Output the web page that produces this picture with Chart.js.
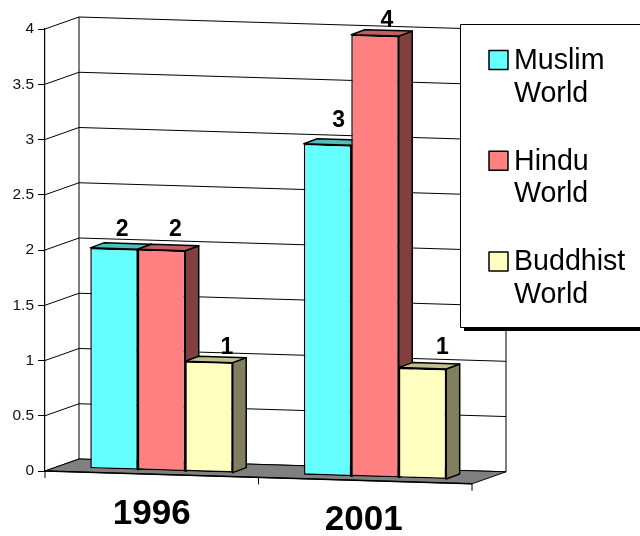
<!DOCTYPE html>
<html>
<head>
<meta charset="utf-8">
<style>
  body { margin: 0; background: #fff; }
  canvas { display: block; }
</style>
<script src="https://cdn.jsdelivr.net/npm/chart.js@4"></script>
</head>
<body>
<canvas id="myChart" width="640" height="536"></canvas>
<script>
const years = ['1996', '2001'];
const muslimWorld = [2, 3];
const hinduWorld = [2, 4];
const buddhistWorld = [1, 1];
const yTicks = [0, 0.5, 1, 1.5, 2, 2.5, 3, 3.5, 4];

const seriesNames = [['Muslim', 'World'], ['Hindu', 'World'], ['Buddhist', 'World']];
const seriesColors = ['#66FFFF', '#FF8080', '#FFFFC0'];
const sideColors = ['#338080', '#804040', '#808060'];
const topColors = ['#4DBFBF', '#BF6060', '#BFBF90'];

// fake 3d look: everything leans down to the right and has some depth
const slope = 0.03;
const wall = { dx: 34, dy: -12 };
const barInset = { dx: 9.75, dy: -3.2 };
const barDepth = { dx: 13.5, dy: -5 };

function lean(area, x, y) {
    return y + slope * (x - area.left);
}

function line(ctx, x1, y1, x2, y2) {
    ctx.beginPath();
    ctx.moveTo(x1, y1);
    ctx.lineTo(x2, y2);
    ctx.stroke();
}

function poly(ctx, pts, fill) {
    ctx.beginPath();
    pts.forEach((p, i) => i ? ctx.lineTo(p[0], p[1]) : ctx.moveTo(p[0], p[1]));
    ctx.closePath();
    ctx.fillStyle = fill;
    ctx.fill();
    ctx.stroke();
}

function drawWalls(chart) {
    const ctx = chart.ctx, area = chart.chartArea, y = chart.scales.y;
    const w = area.right - area.left;
    ctx.strokeStyle = '#000';
    ctx.lineWidth = 1;

    yTicks.forEach(v => {
        const py = y.getPixelForValue(v);
        line(ctx, area.left, py, area.left + wall.dx, py + wall.dy);
        line(ctx, area.left + wall.dx, py + wall.dy, area.right + wall.dx, py + wall.dy + slope * w);
    });
    line(ctx, area.left + wall.dx, area.top + wall.dy, area.left + wall.dx, area.bottom + wall.dy);
    line(ctx, area.right + wall.dx, area.top + wall.dy + slope * w, area.right + wall.dx, area.bottom + wall.dy + slope * w);

    poly(ctx, [
        [area.left, area.bottom],
        [area.left + wall.dx, area.bottom + wall.dy],
        [area.right + wall.dx, area.bottom + wall.dy + slope * w],
        [area.right, area.bottom + slope * w]
    ], '#808080');
    ctx.lineWidth = 1.5;
    line(ctx, area.left, area.bottom, area.right, area.bottom + slope * w);
}

function drawXAxis(chart) {
    const ctx = chart.ctx, area = chart.chartArea, x = chart.scales.x;
    const step = (area.right - area.left) / years.length;
    ctx.strokeStyle = '#000';
    ctx.lineWidth = 1;
    for (let i = 0; i <= years.length; i++) {
        const px = area.left + i * step;
        const py = lean(area, px, area.bottom);
        line(ctx, px, py, px, py + 7);
    }
    ctx.fillStyle = '#000';
    ctx.font = 'bold 35px "Liberation Sans"';
    ctx.textAlign = 'center';
    ctx.textBaseline = 'middle';
    years.forEach((year, i) => {
        const px = x.getPixelForTick(i) - i * 1.5;
        ctx.fillText(year, px, lean(area, px, area.bottom) + 40);
    });
}

function drawBarFaces(chart) {
    const ctx = chart.ctx, area = chart.chartArea;
    ctx.strokeStyle = '#000';
    ctx.lineWidth = 1.5;
    ctx.lineJoin = 'round';
    years.forEach((year, i) => {
        seriesColors.forEach((c, s) => {
            const el = chart.getDatasetMeta(s).data[i];
            const left = el.x - el.width / 2, right = el.x + el.width / 2;
            const sx = x => x + barInset.dx;
            const sy = (x, yy) => lean(area, x, yy) + barInset.dy;
            poly(ctx, [
                [sx(right), sy(right, el.y)],
                [sx(right) + barDepth.dx, sy(right, el.y) + barDepth.dy],
                [sx(right) + barDepth.dx, sy(right, el.base) + barDepth.dy],
                [sx(right), sy(right, el.base)]
            ], sideColors[s]);
            poly(ctx, [
                [sx(left), sy(left, el.y)],
                [sx(left) + barDepth.dx, sy(left, el.y) + barDepth.dy],
                [sx(right) + barDepth.dx, sy(right, el.y) + barDepth.dy],
                [sx(right), sy(right, el.y)]
            ], topColors[s]);
        });
    });
}

// the value labels sit a bit irregularly over the bars in the original
const labelShift = [
    [[8, -19], [14, -21], [18, -15]],
    [[11, -24], [12, -15], [20, -21]]
];

function drawValueLabels(chart) {
    const ctx = chart.ctx, area = chart.chartArea;
    ctx.fillStyle = '#000';
    ctx.font = 'bold 23px "Liberation Sans"';
    ctx.textAlign = 'center';
    ctx.textBaseline = 'middle';
    years.forEach((year, i) => {
        chart.data.datasets.forEach((ds, s) => {
            const el = chart.getDatasetMeta(s).data[i];
            const px = el.x + barInset.dx;
            const py = lean(area, px, el.y) + barInset.dy;
            ctx.fillText(String(ds.data[i]), px + labelShift[i][s][0], py + labelShift[i][s][1]);
        });
    });
}

function drawLegend(chart) {
    const ctx = chart.ctx;
    ctx.fillStyle = '#000';
    ctx.fillRect(464, 327, 176, 4);
    ctx.fillStyle = '#fff';
    ctx.strokeStyle = '#000';
    ctx.lineWidth = 1;
    ctx.fillRect(460.5, 24.5, 190, 303);
    ctx.strokeRect(460.5, 24.5, 190, 303);

    ctx.font = '28.6px "Liberation Sans"';
    ctx.textAlign = 'left';
    ctx.textBaseline = 'alphabetic';
    seriesNames.forEach((name, s) => {
        const base = 69 + s * 100.7;
        ctx.fillStyle = seriesColors[s];
        ctx.lineWidth = 1.5;
        ctx.fillRect(489, base - 18.5, 19, 19);
        ctx.strokeRect(489, base - 18.5, 19, 19);
        ctx.fillStyle = '#000';
        name.forEach((t, k) => ctx.fillText(t, 514, base + k * 32.5));
    });
}

const fake3d = {
    id: 'fake3d',
    beforeDatasetsDraw(chart) {
        const ctx = chart.ctx, area = chart.chartArea;
        drawWalls(chart);
        drawXAxis(chart);
        drawBarFaces(chart);
        // front faces are the chart.js bars, sheared onto the same plane
        ctx.save();
        ctx.translate(barInset.dx, barInset.dy);
        ctx.transform(1, slope, 0, 1, 0, -slope * area.left);
    },
    afterDatasetsDraw(chart) {
        chart.ctx.restore();
        drawValueLabels(chart);
    },
    afterDraw: drawLegend
};

Chart.defaults.font.family = '"Liberation Sans"';

const datasets = [muslimWorld, hinduWorld, buddhistWorld].map((values, s) => ({
    label: seriesNames[s].join(' '),
    data: values,
    backgroundColor: seriesColors[s],
    borderColor: '#000',
    borderWidth: 1.5,
    borderSkipped: false,
    categoryPercentage: 0.667,
    barPercentage: 1,
    clip: false
}));

new Chart(document.getElementById('myChart'), {
    type: 'bar',
    data: { labels: years, datasets },
    options: {
        responsive: false,
        animation: false,
        layout: { padding: { top: 29, right: 168, bottom: 0, left: 0 } },
        plugins: { legend: { display: false }, tooltip: { enabled: false } },
        scales: {
            x: {
                grid: { display: false },
                border: { display: false },
                ticks: { display: false },
                afterFit(scale) { scale.height = 65; }
            },
            y: {
                min: yTicks[0],
                max: yTicks[yTicks.length - 1],
                afterBuildTicks(scale) { scale.ticks = yTicks.map(v => ({ value: v })); },
                afterFit(scale) { scale.width = 45; },
                grid: { drawOnChartArea: false, color: '#000', tickLength: 7 },
                border: { color: '#000', width: 1.2 },
                ticks: {
                    color: '#111',
                    font: { size: 15.5 },
                    padding: 4,
                    callback: v => String(v)
                }
            }
        }
    },
    plugins: [fake3d]
});
</script>
</body>
</html>
